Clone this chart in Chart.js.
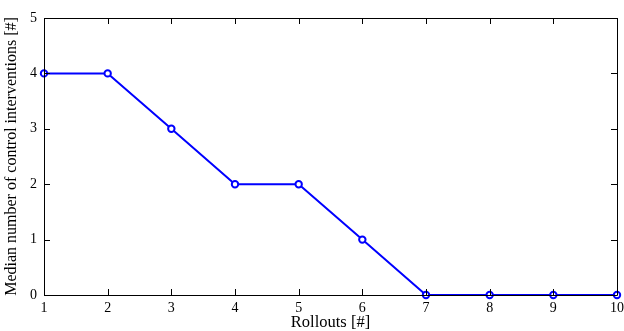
<!DOCTYPE html>
<html>
<head>
<meta charset="utf-8">
<script src="https://cdn.jsdelivr.net/npm/chart.js@4/dist/chart.umd.min.js"></script>
<style>
html, body { margin: 0; padding: 0; background: #fff; }
#wrap { width: 624px; height: 331px; }
</style>
</head>
<body>
<div id="wrap"><canvas id="chart" width="624" height="331"></canvas></div>
<script>
const rollouts = [1, 2, 3, 4, 5, 6, 7, 8, 9, 10];
const interventions = [4, 4, 3, 2, 2, 1, 0, 0, 0, 0];
const yTicks = [0, 1, 2, 3, 4, 5];

// MATLAB style box with inward ticks on all sides
const boxTicks = {
    id: 'boxTicks',
    afterDraw(chart) {
        const ctx = chart.ctx;
        const a = chart.chartArea;
        const xs = chart.scales.x, ys = chart.scales.y;
        ctx.save();
        ctx.strokeStyle = '#000';
        ctx.lineWidth = 1;
        ctx.beginPath();
        ctx.rect(a.left + 0.5, a.top + 0.5, a.right - a.left, a.bottom - a.top);
        rollouts.forEach(v => {
            const px = Math.round(xs.getPixelForValue(v)) + 0.5;
            ctx.moveTo(px, a.bottom); ctx.lineTo(px, a.bottom - 6);
            ctx.moveTo(px, a.top); ctx.lineTo(px, a.top + 6);
        });
        yTicks.forEach(v => {
            const py = Math.round(ys.getPixelForValue(v)) + 0.5;
            ctx.moveTo(a.left, py); ctx.lineTo(a.left + 6, py);
            ctx.moveTo(a.right, py); ctx.lineTo(a.right - 6, py);
        });
        ctx.stroke();
        ctx.restore();
    }
};

const serif = "'Liberation Serif', 'Times New Roman', serif";

new Chart(document.getElementById('chart'), {
    type: 'line',
    data: {
        datasets: [{
            data: rollouts.map((x, i) => ({ x, y: interventions[i] })),
            borderColor: '#0000ff',
            borderWidth: 2,
            pointRadius: 3.2,
            pointBorderWidth: 2,
            pointBackgroundColor: '#fff',
            pointBorderColor: '#0000ff',
            clip: false
        }]
    },
    options: {
        responsive: false,
        animation: false,
        layout: { padding: { top: 18, right: 7, left: 0, bottom: 0 } },
        plugins: { legend: { display: false }, tooltip: { enabled: false } },
        scales: {
            x: {
                type: 'linear',
                min: 1, max: 10,
                afterFit: s => { s.height = 36; s.paddingRight = 0; s.paddingLeft = 0; },
                afterBuildTicks: s => { s.ticks = rollouts.map(v => ({ value: v })); },
                grid: { display: false, drawTicks: false },
                border: { display: false },
                ticks: { color: '#000', font: { family: serif, size: 14 }, padding: 5 },
                title: { display: true, text: 'Rollouts [#]', color: '#000', font: { family: serif, size: 16.5 }, padding: { top: 0, bottom: -2 } }
            },
            y: {
                min: 0, max: 5,
                afterFit: s => { s.width = 44; },
                afterBuildTicks: s => { s.ticks = yTicks.map(v => ({ value: v })); },
                grid: { display: false, drawTicks: false },
                border: { display: false },
                ticks: { color: '#000', font: { family: serif, size: 14 }, padding: 7 },
                title: { display: true, text: 'Median number of control interventions [#]', color: '#000', font: { family: serif, size: 16 }, padding: { top: 2, bottom: 2 } }
            }
        }
    },
    plugins: [boxTicks]
});
</script>
</body>
</html>
